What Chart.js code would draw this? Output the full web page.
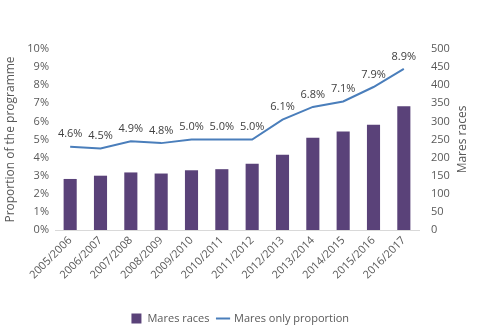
<!DOCTYPE html>
<html>
<head>
<meta charset="utf-8">
<script src="https://cdn.jsdelivr.net/npm/chart.js@4"></script>
<style>
  html, body { margin: 0; padding: 0; background: #fff; }
  #wrap { width: 480px; height: 334px; }
</style>
</head>
<body>
<div id="wrap"><canvas id="chart" width="480" height="334"></canvas></div>
<script>
// season labels and series
const seasons = ['2005/2006', '2006/2007', '2007/2008', '2008/2009', '2009/2010', '2010/2011',
    '2011/2012', '2012/2013', '2013/2014', '2014/2015', '2015/2016', '2016/2017'];
const maresRaces = [141, 150, 159, 156, 165, 168, 183, 208, 255, 272, 291, 342];
const maresProportion = [4.6, 4.5, 4.9, 4.8, 5.0, 5.0, 5.0, 6.1, 6.8, 7.1, 7.9, 8.9];

const textColor = '#595959';
const fontFamily = '"Open Sans", "Noto Sans", sans-serif';

// little labels over the line points
const lineLabels = {
    id: 'lineLabels',
    afterDatasetsDraw(chart) {
        const meta = chart.getDatasetMeta(1);
        const ctx = chart.ctx;
        ctx.save();
        ctx.font = '11px ' + fontFamily;
        ctx.fillStyle = '#404040';
        ctx.textAlign = 'center';
        ctx.textBaseline = 'bottom';
        meta.data.forEach((pt, i) => {
            ctx.fillText(maresProportion[i].toFixed(1) + '%', pt.x, pt.y - 7);
        });
        ctx.restore();
    }
};

// right axis title reads bottom-to-top like the left one
const rightTitle = {
    id: 'rightTitle',
    afterDraw(chart) {
        const area = chart.chartArea;
        const ctx = chart.ctx;
        ctx.save();
        ctx.translate(463, (area.top + area.bottom) / 2);
        ctx.rotate(-Math.PI / 2);
        ctx.font = '12px ' + fontFamily;
        ctx.fillStyle = textColor;
        ctx.textAlign = 'center';
        ctx.textBaseline = 'middle';
        ctx.fillText('Mares races', 0, 0);
        ctx.restore();
    }
};

new Chart(document.getElementById('chart').getContext('2d'), {
    type: 'bar',
    data: {
        labels: seasons,
        datasets: [{
            label: 'Mares races',
            data: maresRaces,
            yAxisID: 'yRaces',
            backgroundColor: '#5a4279',
            categoryPercentage: 0.9,
            barPercentage: 0.48,
            order: 2
        }, {
            type: 'line',
            label: 'Mares only proportion',
            data: maresProportion,
            yAxisID: 'yPct',
            borderColor: '#4a7ebb',
            backgroundColor: '#4a7ebb',
            borderWidth: 2,
            pointRadius: 0,
            tension: 0,
            order: 1
        }]
    },
    options: {
        responsive: false,
        animation: false,
        layout: { padding: { top: 49, left: 0, right: 0, bottom: 0 } },
        plugins: {
            tooltip: { enabled: false },
            legend: {
                position: 'bottom',
                labels: {
                    color: textColor,
                    font: { family: fontFamily, size: 11 },
                    usePointStyle: true,
                    boxWidth: 30,
                    boxHeight: 10,
                    padding: 8,
                    generateLabels(chart) {
                        return [{
                            text: 'Mares races', fillStyle: '#5a4279', strokeStyle: '#5a4279',
                            pointStyle: 'rect', lineWidth: 0, datasetIndex: 0, fontColor: textColor
                        }, {
                            text: 'Mares only proportion', fillStyle: '#4a7ebb', strokeStyle: '#4a7ebb',
                            pointStyle: 'line', lineWidth: 2, datasetIndex: 1, fontColor: textColor
                        }];
                    }
                }
            }
        },
        scales: {
            x: {
                grid: { display: false, drawTicks: false },
                border: { color: '#d9d9d9' },
                ticks: {
                    color: textColor,
                    font: { family: fontFamily, size: 11 },
                    minRotation: 45,
                    maxRotation: 45,
                    padding: 4
                },
                afterFit(scale) { scale.height = 75; }
            },
            yPct: {
                position: 'left',
                min: 0,
                max: 10,
                grid: { display: false, drawTicks: false },
                border: { display: false },
                ticks: {
                    stepSize: 1,
                    color: textColor,
                    font: { family: fontFamily, size: 11 },
                    padding: 6,
                    callback: v => v + '%'
                },
                title: {
                    display: true,
                    text: 'Proportion of the programme',
                    color: textColor,
                    font: { family: fontFamily, size: 12 },
                    padding: 3
                },
                afterFit(scale) { scale.width = 55; }
            },
            yRaces: {
                position: 'right',
                min: 0,
                max: 500,
                grid: { display: false, drawTicks: false },
                border: { display: false },
                ticks: {
                    stepSize: 50,
                    color: textColor,
                    font: { family: fontFamily, size: 11 },
                    padding: 12
                },
                afterFit(scale) { scale.width = 61; }
            }
        }
    },
    plugins: [lineLabels, rightTitle]
});
</script>
</body>
</html>
